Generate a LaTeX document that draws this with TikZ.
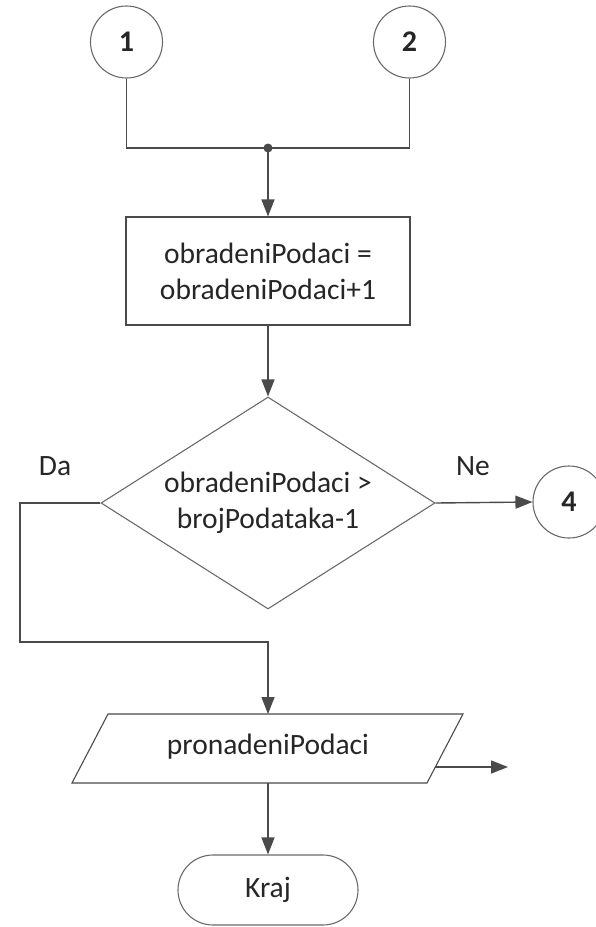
\documentclass[tikz,border=0pt]{standalone}
\usepackage{fontspec}
\setmainfont{Carlito}
\usetikzlibrary{arrows.meta,shapes.geometric,shapes.misc}
\definecolor{ln}{HTML}{4A4A4A}
\definecolor{sh}{HTML}{6A6A6A}
\definecolor{txt}{HTML}{262626}
\begin{document}
\begin{tikzpicture}[x=1pt,y=-1pt,
  every node/.style={font=\fontsize{29.5}{36}\selectfont, text=txt},
  line/.style={draw=ln, line width=1.4pt},
  arr/.style={line, -{Triangle[length=17pt,width=13pt]}},
  conn/.style={circle, draw=sh, line width=1.1pt, minimum size=72pt, inner sep=0pt,
    font=\fontsize{30}{36}\selectfont\bfseries},
  procbox/.style={rectangle, draw=ln, line width=1.1pt, minimum width=284pt,
    minimum height=108pt, align=center, inner sep=0pt},
  decision/.style={diamond, draw=sh, line width=1.1pt, aspect=1.575, inner sep=0pt,
    minimum width=334pt, minimum height=212pt, align=center},
  term/.style={rounded rectangle, draw=sh, line width=1.1pt, minimum width=180pt,
    minimum height=70pt, inner sep=0pt},
  iobox/.style={draw=ln, line width=1.1pt}
]
\useasboundingbox (0,0) rectangle (595,927);

\node[conn] (c1) at (126.5,42) {1};
\node[conn] (c2) at (409.5,42) {2};
\coordinate (j) at (268,148);

\node[procbox] (calc) at (268,271) {obradeniPodaci =\\obradeniPodaci+1};
\node[decision] (dec) at (268,503) {\raisebox{7pt}{\begin{tabular}{@{}c@{}}obradeniPodaci >\\brojPodataka-1\end{tabular}}};
\node (da) at (55,466) {Da};
\node (ne) at (473,466) {Ne};
\node[conn] (c4) at (569,502) {4};

\coordinate (dc) at (20,642);
\coordinate (mg) at (268,642);

% parallelogram
\coordinate (ptl) at (108,714);
\coordinate (ptr) at (463,714);
\coordinate (pbr) at (427,783);
\coordinate (pbl) at (72,783);
\draw[iobox] (ptl) -- (ptr) -- (pbr) -- (pbl) -- cycle;
\node (io) at (268,747) {pronadeniPodaci};
\coordinate (iot) at (268,714);
\coordinate (iob) at (268,783);
\coordinate (ioout) at (435,767);
\coordinate (ioend) at (508,767);

\node[term] (kraj) at (268,890) {Kraj};

% connectors
\draw[line] (c1.south) |- (j);
\draw[line] (c2.south) |- (j);
\fill[ln] (j) circle (4.5pt);
\draw[arr] (j) -- (calc.north);
\draw[arr] (calc.south) -- (dec.north);
\draw[arr] (dec.west) -| (dc) -- (mg) -- (iot);
\draw[arr] (dec.east) -- (c4.west);
\draw[arr] (ioout) -- (ioend);
\draw[arr] (iob) -- (kraj.north);
\end{tikzpicture}
\end{document}
